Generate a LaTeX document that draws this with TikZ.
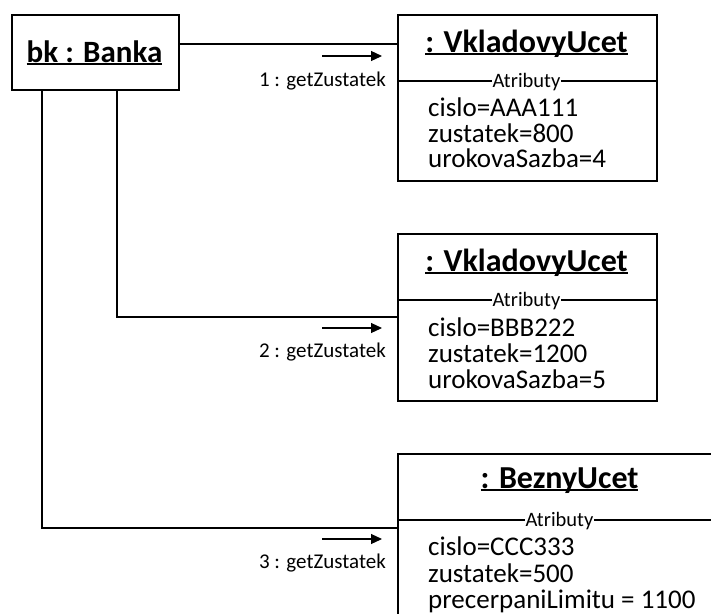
\documentclass[tikz,border=0pt]{standalone}
\usepackage{fontspec}
\setmainfont{Carlito}
\usetikzlibrary{arrows.meta}
% underline drawn just under the baseline, crossing descenders
\newcommand\ulbox[1]{\setbox0\hbox{#1}\rlap{\rule[-3pt]{\wd0}{1.8pt}}\box0}
\begin{document}
\begin{tikzpicture}[x=1pt,y=-1pt,
  objbox/.style={draw, line width=1.7pt, rectangle, inner sep=0pt, anchor=north west},
  link/.style={line width=1.2pt},
  msg/.style={line width=1.2pt, -{Triangle[length=11pt,width=10pt]}},
  objtitle/.style={font=\fontsize{32}{36}\selectfont\bfseries, anchor=base, inner sep=0pt},
  attrs/.style={font=\fontsize{27}{30}\selectfont, anchor=base west, inner sep=0pt},
  sect/.style={font=\fontsize{20.5}{24}\selectfont, fill=white, anchor=base, inner xsep=1pt, inner ysep=0pt},
  msglabel/.style={font=\fontsize{21}{24}\selectfont, anchor=base east, inner sep=0pt}]
\useasboundingbox (0,0) rectangle (711,613);
\clip (0,0) rectangle (711,613);

% object boxes
\node[objbox, minimum width=167pt, minimum height=75pt] (bk) at (11,14) {};
\node[objbox, minimum width=259pt, minimum height=166pt] (v1) at (397,14) {};
\node[objbox, minimum width=259pt, minimum height=167pt] (v2) at (397,233) {};
\node[objbox, minimum width=325pt, minimum height=190pt] (bu) at (397,453) {};

% titles
\node[objtitle, font=\fontsize{31}{35}\selectfont\bfseries] (bkt) at (94.5,62) {\ulbox{bk : Banka}};
\node[objtitle] (v1t) at (526.5,52) {\ulbox{: VkladovyUcet}};
\node[objtitle] (v2t) at (526.5,271) {\ulbox{: VkladovyUcet}};
\node[objtitle] (but) at (559.5,488) {\ulbox{: BeznyUcet}};

% attribute separators
\draw[link] (v1.west |- 0,81) -- (v1.east |- 0,81);
\node[sect] (v1s) at (526.5,87) {Atributy};
\draw[link] (v2.west |- 0,300) -- (v2.east |- 0,300);
\node[sect] (v2s) at (526.5,306) {Atributy};
\draw[link] (bu.west |- 0,520) -- (bu.east |- 0,520);
\node[sect] (bus) at (559.5,526) {Atributy};

% attribute values
\node[attrs] (v1a) at (428,116) {cislo=AAA111};
\node[attrs] (v1b) at (428,142) {zustatek=800};
\node[attrs] (v1c) at (428,167) {urokovaSazba=4};
\node[attrs] (v2a) at (428,336) {cislo=BBB222};
\node[attrs] (v2b) at (428,362) {zustatek=1200};
\node[attrs] (v2c) at (428,388) {urokovaSazba=5};
\node[attrs] (bua) at (428,555) {cislo=CCC333};
\node[attrs] (bub) at (428,582) {zustatek=500};
\node[attrs] (buc) at (428,608) {precerpaniLimitu = 1100};

% links from the bank to the accounts
\draw[link] (bk.east |- 0,44) -- (v1.west |- 0,44);
\draw[link] (bk.south -| 117,0) |- (v2.west |- 0,317);
\draw[link] (bk.south -| 42,0) |- (bu.west |- 0,528);

% messages
\coordinate (m1a) at (322,56);  \coordinate (m1b) at (382,56);
\coordinate (m2a) at (322,328); \coordinate (m2b) at (382,328);
\coordinate (m3a) at (322,539); \coordinate (m3b) at (382,539);
\draw[msg] (m1a) -- (m1b);
\draw[msg] (m2a) -- (m2b);
\draw[msg] (m3a) -- (m3b);
\node[msglabel] (l1) at (386,86) {1 : getZustatek};
\node[msglabel] (l2) at (386,357) {2 : getZustatek};
\node[msglabel] (l3) at (386,568) {3 : getZustatek};
\end{tikzpicture}
\end{document}
